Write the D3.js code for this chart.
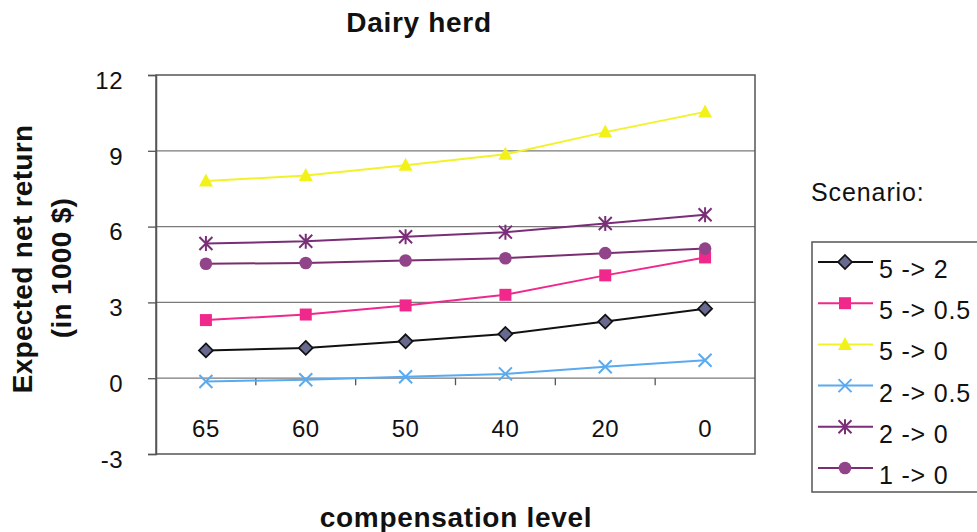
<!DOCTYPE html>
<html><head><meta charset="utf-8">
<script src="https://cdn.jsdelivr.net/npm/d3@7"></script>
<style>body{margin:0;background:#fff}svg{display:block}text{font-family:"Liberation Sans",Arial,sans-serif}</style>
</head><body>
<svg id="c" width="977" height="532"></svg>
<script>
const categories = ["65","60","50","40","20","0"];
const yTicks = [-3,0,3,6,9,12];
const seriesNames = ["5 -> 2","5 -> 0.5","5 -> 0","2 -> 0.5","2 -> 0","1 -> 0"];
const s52  = [1.10,1.20,1.46,1.75,2.24,2.75];
const s505 = [2.30,2.52,2.88,3.30,4.07,4.78];
const s50  = [7.80,8.02,8.43,8.86,9.74,10.54];
const s205 = [-0.13,-0.06,0.06,0.17,0.45,0.71];
const s20  = [5.33,5.42,5.60,5.78,6.12,6.47];
const s10  = [4.53,4.56,4.66,4.75,4.95,5.13];
const seriesValues = [s52,s505,s50,s205,s20,s10];

const styles = [
  {line:"#111111", fill:"#67698f", stroke:"#111111", sym:"diamond"},
  {line:"#f0288c", fill:"#f0288c", stroke:"#f0288c", sym:"square"},
  {line:"#f2f22a", fill:"#f2f21a", stroke:"#f2f21a", sym:"triangle"},
  {line:"#5aaaf0", fill:"none", stroke:"#5aaaf0", sym:"x"},
  {line:"#7a2e78", fill:"none", stroke:"#7a2e78", sym:"star"},
  {line:"#7a2e70", fill:"#92448a", stroke:"#92448a", sym:"circle"}
];

const svg = d3.select("#c");
const L=156, R=755, T=75, B=454;
const x = d3.scaleBand().domain(categories).range([L,R]);
const y = d3.scaleLinear().domain([-3,12]).range([B,T]);

// gridlines
svg.append("g").selectAll("line").data(yTicks.filter(v=>v>-3&&v<12)).join("line")
  .attr("x1",L).attr("x2",R).attr("y1",d=>y(d)).attr("y2",d=>y(d))
  .attr("stroke","#7a7a7a").attr("stroke-width",1.3);

// plot border
svg.append("rect").attr("x",L).attr("y",T).attr("width",R-L).attr("height",B-T)
  .attr("fill","none").attr("stroke","#555").attr("stroke-width",1.5);

// y axis
const yAxis = d3.axisLeft(y).tickValues(yTicks).tickFormat(d=>String(d)).tickSize(8).tickPadding(25);
const gy = svg.append("g").attr("transform",`translate(${L},0)`).call(yAxis);
gy.select(".domain").attr("stroke","#555").attr("stroke-width",1.5);
gy.selectAll(".tick line").attr("stroke","#555").attr("stroke-width",1.3);
gy.selectAll(".tick text").attr("font-size",24).attr("fill","#111").attr("dy","0.55em")
  .attr("letter-spacing","0.5px")
  .attr("font-family","'Liberation Sans',Arial,sans-serif");

// category axis on y=0
const xAxis = d3.axisBottom(x).tickSize(0).tickPadding(42);
const gx = svg.append("g").attr("transform",`translate(0,${y(0)})`).call(xAxis);
gx.select(".domain").remove();
gx.selectAll(".tick text").attr("font-size",24).attr("fill","#111").attr("letter-spacing","0.5px")
  .attr("font-family","'Liberation Sans',Arial,sans-serif");
// band boundary ticks
svg.append("g").selectAll("line").data(categories.slice(1)).join("line")
  .attr("x1",d=>x(d)).attr("x2",d=>x(d)).attr("y1",y(0)).attr("y2",y(0)+7)
  .attr("stroke","#555").attr("stroke-width",1.3);

function marker(g, sym, st, cx, cy){
  if(sym==="diamond"){
    g.append("path").attr("d",`M${cx},${cy-7}L${cx+7},${cy}L${cx},${cy+7}L${cx-7},${cy}Z`)
      .attr("fill",st.fill).attr("stroke",st.stroke).attr("stroke-width",1.7);
  } else if(sym==="square"){
    g.append("rect").attr("x",cx-6).attr("y",cy-6).attr("width",12).attr("height",12).attr("fill",st.fill);
  } else if(sym==="triangle"){
    g.append("path").attr("d",`M${cx},${cy-7.5}L${cx+7},${cy+5.5}L${cx-7},${cy+5.5}Z`).attr("fill",st.fill);
  } else if(sym==="x"){
    g.append("path").attr("d",`M${cx-6.5},${cy-6.5}L${cx+6.5},${cy+6.5}M${cx+6.5},${cy-6.5}L${cx-6.5},${cy+6.5}`)
      .attr("stroke",st.stroke).attr("stroke-width",2);
  } else if(sym==="star"){
    g.append("path").attr("d",`M${cx-6.5},${cy-6.5}L${cx+6.5},${cy+6.5}M${cx+6.5},${cy-6.5}L${cx-6.5},${cy+6.5}M${cx},${cy-7.5}L${cx},${cy+7.5}`)
      .attr("stroke",st.stroke).attr("stroke-width",2);
  } else if(sym==="circle"){
    g.append("circle").attr("cx",cx).attr("cy",cy).attr("r",6.3).attr("fill",st.fill);
  }
}

const line = d3.line().x((d,i)=>x(categories[i])+x.bandwidth()/2).y(d=>y(d));
seriesValues.forEach((vals,k)=>{
  const st = styles[k];
  const g = svg.append("g");
  g.append("path").attr("d",line(vals)).attr("fill","none").attr("stroke",st.line).attr("stroke-width",2);
  vals.forEach((v,i)=>marker(g, st.sym, st, x(categories[i])+x.bandwidth()/2, y(v)));
});

// titles
const tfont = {size:28, ls:"0.7px"};
svg.append("text").attr("x",419).attr("y",32).attr("text-anchor","middle")
  .attr("font-size",tfont.size).attr("letter-spacing",tfont.ls).attr("font-weight","bold").attr("fill","#111").text("Dairy herd");
svg.append("text").attr("x",456).attr("y",527).attr("text-anchor","middle")
  .attr("font-size",tfont.size).attr("letter-spacing",tfont.ls).attr("font-weight","bold").attr("fill","#111").text("compensation level");
svg.append("text").attr("transform","translate(32,259) rotate(-90)").attr("text-anchor","middle")
  .attr("font-size",tfont.size).attr("letter-spacing","0.3px").attr("font-weight","bold").attr("fill","#111").text("Expected net return");
svg.append("text").attr("transform","translate(71,268) rotate(-90)").attr("text-anchor","middle")
  .attr("font-size",tfont.size).attr("letter-spacing","0.3px").attr("font-weight","bold").attr("fill","#111").text("(in 1000 $)");

// legend
svg.append("text").attr("x",811).attr("y",201).attr("font-size",25).attr("letter-spacing","0.9px").attr("fill","#111").text("Scenario:");
svg.append("rect").attr("x",812).attr("y",242).attr("width",200).attr("height",250)
  .attr("fill","none").attr("stroke","#555").attr("stroke-width",1.5);
const legY = d3.scalePoint().domain(seriesNames).range([262,468]);
seriesNames.forEach((n,k)=>{
  const st = styles[k]; const ly = legY(n);
  const g = svg.append("g");
  g.append("line").attr("x1",818).attr("x2",873).attr("y1",ly).attr("y2",ly).attr("stroke",st.line).attr("stroke-width",2);
  marker(g, st.sym, st, 845, ly);
  g.append("text").attr("x",879).attr("y",ly+16).attr("font-size",25).attr("letter-spacing","0.8px").attr("fill","#111").text(n);
});
</script>
</body></html>
